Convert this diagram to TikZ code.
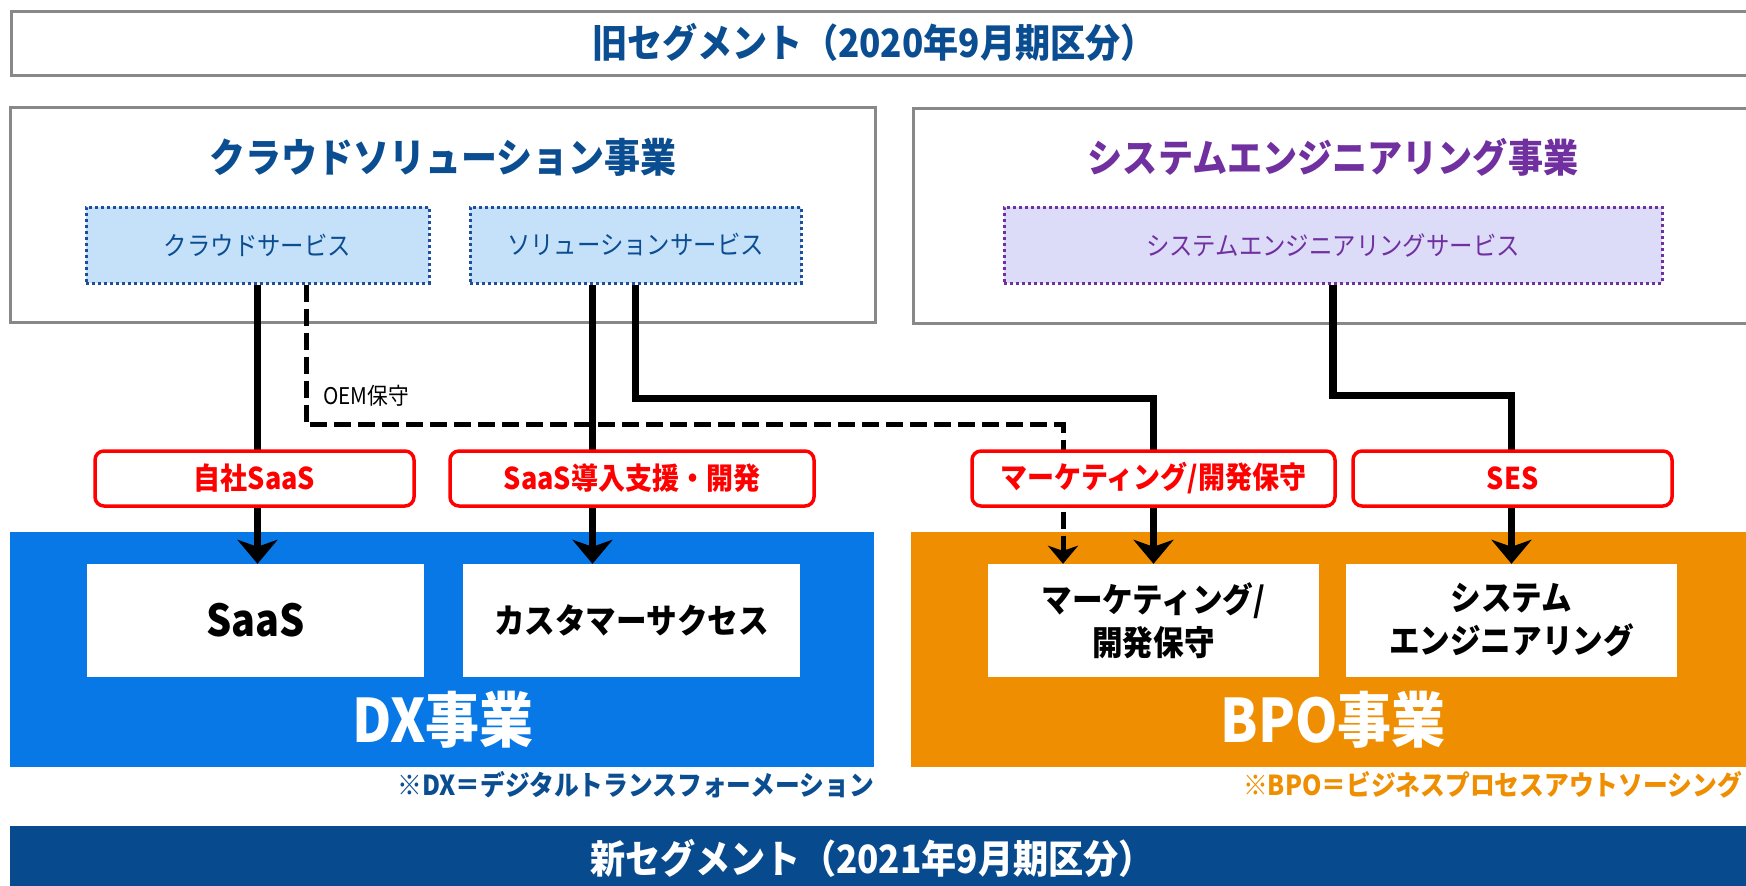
\documentclass[tikz,border=0pt]{standalone}
\usepackage{fontspec}
\setmainfont{Noto Sans CJK JP}[FakeStretch=0.9]
\usetikzlibrary{arrows.meta}
\definecolor{navy}{HTML}{0B4D91}
\definecolor{barblue}{HTML}{074A8E}
\definecolor{dxblue}{HTML}{0778E6}
\definecolor{bpoorange}{HTML}{EE8E00}
\definecolor{lightblue}{HTML}{C5E1FA}
\definecolor{lavender}{HTML}{DCDCF8}
\definecolor{purp}{HTML}{7030A0}
\definecolor{framegray}{HTML}{888888}
\definecolor{dotblue}{HTML}{1F4E9A}
\newcommand\fsz[2]{\fontsize{#1}{#2}\selectfont}
\begin{document}
\begin{tikzpicture}[x=1pt,y=-1pt,
  grayframe/.style={draw=framegray,line width=3pt,fill=white,inner sep=0pt},
  subbox/.style={line width=3pt,dash pattern=on 3pt off 3pt,inner sep=0pt,minimum height=76pt,font=\fsz{26}{30}},
  whitebox/.style={fill=white,inner sep=0pt,minimum height=113pt,font=\bfseries\fsz{34}{43},align=center},
  redlab/.style={draw=red,line width=3.5pt,fill=white,rounded corners=9pt,minimum height=55pt,inner sep=0pt,text=red,font=\bfseries\fsz{30}{33}},
  conn/.style={line width=7.5pt,-{Stealth[length=24pt,width=40pt,inset=7pt]}},
  dconn/.style={line width=5pt,dash pattern=on 17pt off 7pt,-{Stealth[length=18pt,width=30pt,inset=5pt]}},
  area/.style={inner sep=0pt,minimum height=235pt}
]
\useasboundingbox (0,0) rectangle (1746,886);
\clip (0,0) rectangle (1746,886);
\fill[white] (0,0) rectangle (1746,886);

% old segment header
\node[grayframe,anchor=north west,minimum width=1780pt,minimum height=64pt] (oldbox) at (10,10) {};
\node[text=navy,font=\bfseries\fsz{39}{44}] (oldtxt) at (874,42) {旧セグメント（2020年9月期区分）};

% upper business frames
\node[grayframe,minimum width=865pt,minimum height=215pt] (cloudframe) at (442.5,214.5) {};
\node[grayframe,anchor=north west,minimum width=900pt,minimum height=215pt] (seframe) at (912,107) {};
\node[text=navy,font=\bfseries\fsz{40}{44}] (cloudtitle) at (443,157) {クラウドソリューション事業};
\node[text=purp,font=\bfseries\fsz{39}{44}] (setitle) at (1333,157) {システムエンジニアリング事業};

\node[subbox,draw=dotblue,fill=lightblue,text=navy,minimum width=343pt] (cloud) at (257.5,245) {クラウドサービス};
\node[subbox,draw=dotblue,fill=lightblue,text=navy,minimum width=331pt] (sol) at (635.5,245) {ソリューションサービス};
\node[subbox,draw=purp,fill=lavender,text=purp,minimum width=658pt] (ses) at (1333,245) {システムエンジニアリングサービス};

% new segment areas
\node[area,fill=dxblue,minimum width=864pt] (dx) at (442,649.5) {};
\node[area,fill=bpoorange,anchor=north west,minimum width=900pt] (bpo) at (911,532) {};
\node[whitebox,minimum width=337pt,font=\bfseries\fsz{44}{48}] (saas) at (255.5,620.5) {SaaS};
\node[whitebox,minimum width=337pt] (cs) at (631.5,620.5) {カスタマーサクセス};
\node[whitebox,minimum width=331pt] (mkt) at (1153.5,620.5) {マーケティング/\\開発保守};
\node[whitebox,minimum width=331pt] (sys) at (1511.5,620.5) {システム\\エンジニアリング};
\node[text=white,font=\bfseries\fsz{60}{66}] (dxtxt) at (443,720) {DX事業};
\node[text=white,font=\bfseries\fsz{60}{66}] (bpotxt) at (1333,720) {BPO事業};

\node[anchor=east,text=navy,font=\bfseries\fsz{27.5}{30},inner sep=0pt] (dxnote) at (874,785) {※DX＝デジタルトランスフォーメーション};
\node[anchor=east,text=bpoorange,font=\bfseries\fsz{27.5}{30},inner sep=0pt] (bponote) at (1742,785) {※BPO＝ビジネスプロセスアウトソーシング};

\node[fill=barblue,anchor=north west,minimum width=1780pt,minimum height=70pt,inner sep=0pt] (newbar) at (10,826) {};
\node[text=white,font=\bfseries\fsz{39}{44}] (newtxt) at (872,858) {新セグメント（2021年9月期区分）};

% connectors
\draw[conn] (cloud.south) -- (cloud.south |- saas.north);
\draw[conn] ([xshift=-43pt]sol.south) -- ([xshift=-43pt]sol.south |- cs.north);
\draw[conn] (sol.south) -- ++(0,114) -| (mkt.north);
\draw[conn] (ses.south) -- ++(0,111) -| (sys.north);
\draw[dconn] ([xshift=48.5pt]cloud.south) -- ++(0,140) -| ([xshift=-90.5pt]mkt.north);
\node[anchor=west,font=\fsz{23}{26},inner sep=0pt] (oem) at (323,396) {OEM保守};

% labels
\node[redlab,minimum width=319pt] (l1) at (254.5,478.5) {自社SaaS};
\node[redlab,minimum width=364pt] (l2) at (632,478.5) {SaaS導入支援・開発};
\node[redlab,minimum width=363pt] (l3) at (1153.5,478.5) {マーケティング/開発保守};
\node[redlab,minimum width=319pt] (l4) at (1512.5,478.5) {SES};
\end{tikzpicture}
\end{document}
